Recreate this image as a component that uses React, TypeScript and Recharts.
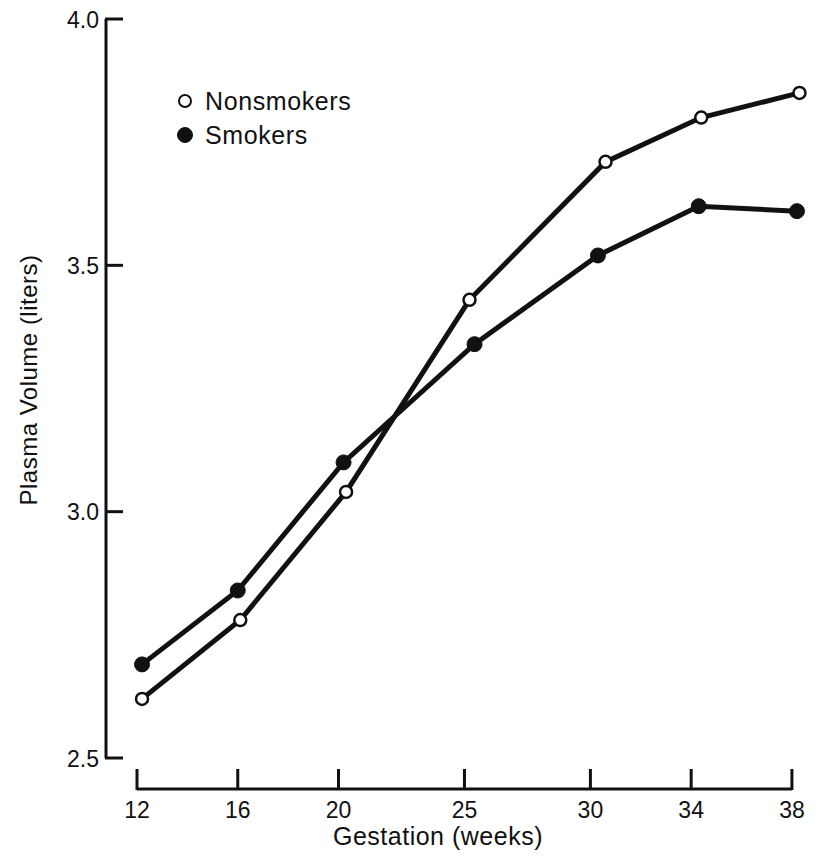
import React from "react";
import { LineChart, Line, XAxis, YAxis, Legend, Label } from "recharts";

// values (weeks of gestation, plasma volume in liters)
const nonsmokerWeeks = [12.2, 16.1, 20.3, 25.2, 30.6, 34.4, 38.3];
const nonsmokerVolume = [2.62, 2.78, 3.04, 3.43, 3.71, 3.8, 3.85];
const smokerWeeks = [12.2, 16.0, 20.2, 25.4, 30.3, 34.3, 38.2];
const smokerVolume = [2.69, 2.84, 3.1, 3.34, 3.52, 3.62, 3.61];

const weekTicks = [12, 16, 20, 25, 30, 34, 38];
const volumeTicks = [2.5, 3.0, 3.5, 4.0];

const toPoints = (weeks: number[], volume: number[]) =>
  weeks.map((week, i) => ({ week, volume: volume[i] }));

const nonsmokers = toPoints(nonsmokerWeeks, nonsmokerVolume);
const smokers = toPoints(smokerWeeks, smokerVolume);

const INK = "#111";
const FONT = '"Liberation Sans", Arial, Helvetica, sans-serif';

const XTick = ({ x, y, payload }: any) => (
  <g>
    <line x1={x} y1={y + 1} x2={x} y2={y - 20} stroke={INK} strokeWidth={3} />
    <text x={x} y={y + 29} textAnchor="middle" fill={INK} fontSize={23} fontFamily={FONT}>
      {payload.value}
    </text>
  </g>
);

const YTick = ({ x, y, payload }: any) => (
  <g>
    <line x1={x - 1} y1={y} x2={x + 17} y2={y} stroke={INK} strokeWidth={3} />
    <text x={x - 7} y={y} dy="0.38em" textAnchor="end" fill={INK} fontSize={23} fontFamily={FONT}>
      {Number(payload.value).toFixed(1)}
    </text>
  </g>
);

const XLabel = () => (
  <text x={430} y={845} textAnchor="middle" fill={INK} fontSize={25} letterSpacing={0.5} fontFamily={FONT}>
    Gestation (weeks)
  </text>
);

const YLabel = () => (
  <text
    x={29}
    y={380}
    transform="rotate(-90, 29, 380)"
    textAnchor="middle"
    fill={INK}
    fontSize={24}
    letterSpacing={0.5}
    fontFamily={FONT}
  >
    Plasma Volume (liters)
  </text>
);

const renderLegend = ({ payload }: any) => (
  <div style={{ fontFamily: FONT, fontSize: 25, letterSpacing: 0.6, color: INK }}>
    {(payload || []).map((entry: any) => {
      const open = entry.value === "Nonsmokers";
      return (
        <div key={entry.value} style={{ display: "flex", alignItems: "center", height: 34 }}>
          <svg width={20} height={20}>
            <circle
              cx={10}
              cy={10}
              r={open ? 6 : 7.5}
              fill={open ? "#fff" : INK}
              stroke={INK}
              strokeWidth={open ? 2 : 1}
            />
          </svg>
          <span style={{ marginLeft: 10 }}>{entry.value}</span>
        </div>
      );
    })}
  </div>
);

const App = () => {
  return (
    <div style={{ padding: "0 8px" }}>
      <style>{"body { margin: 0; }"}</style>
      <LineChart width={801} height={857} margin={{ top: 19, right: 7, left: 38, bottom: 13 }}>
        <XAxis
          dataKey="week"
          type="number"
          domain={[12, 38.4]}
          ticks={weekTicks}
          interval={0}
          padding={{ left: 31, right: 0 }}
          height={55}
          tickSize={0}
          tickMargin={0}
          tickLine={false}
          axisLine={{ stroke: INK, strokeWidth: 3, strokeDasharray: "0 31 655 2000" }}
          tick={<XTick />}
        >
          <Label content={XLabel} />
        </XAxis>
        <YAxis
          type="number"
          domain={[2.5, 4]}
          ticks={volumeTicks}
          padding={{ top: 0, bottom: 31 }}
          width={60}
          tickSize={0}
          tickMargin={0}
          tickLine={false}
          axisLine={{ stroke: INK, strokeWidth: 3, strokeDasharray: "739 2000" }}
          tick={<YTick />}
        >
          <Label content={YLabel} />
        </YAxis>
        <Legend
          layout="vertical"
          align="center"
          verticalAlign="middle"
          wrapperStyle={{ top: 84, left: 167, width: 220 }}
          content={renderLegend}
        />
        <Line
          data={nonsmokers}
          dataKey="volume"
          name="Nonsmokers"
          type="linear"
          stroke={INK}
          strokeWidth={5}
          dot={{ r: 6, fill: "#fff", stroke: INK, strokeWidth: 2.5 }}
          activeDot={false}
          isAnimationActive={false}
        />
        <Line
          data={smokers}
          dataKey="volume"
          name="Smokers"
          type="linear"
          stroke={INK}
          strokeWidth={5}
          dot={{ r: 7.5, fill: INK, stroke: INK, strokeWidth: 1 }}
          activeDot={false}
          isAnimationActive={false}
        />
      </LineChart>
    </div>
  );
};

export default App;
